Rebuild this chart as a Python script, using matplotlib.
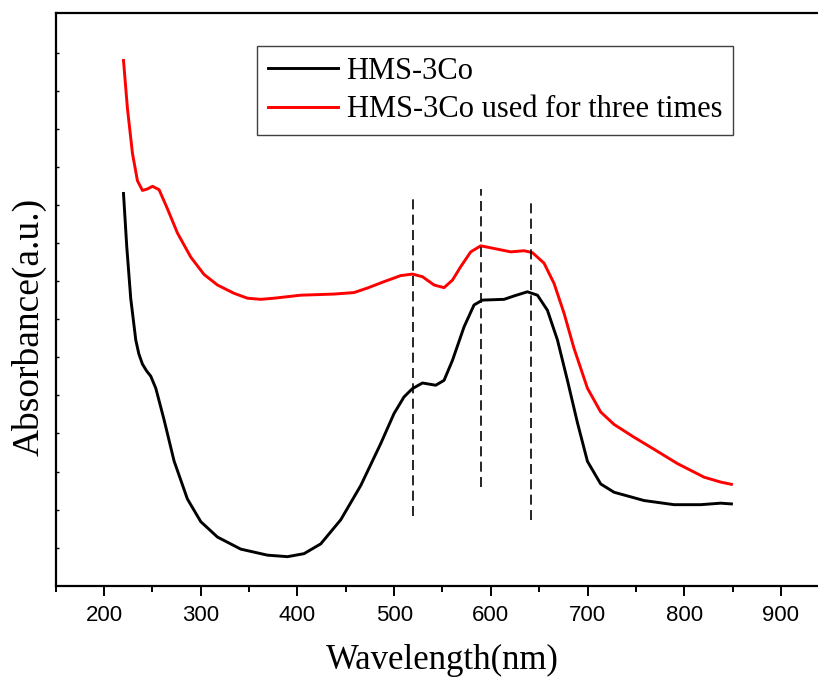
"""UV-Vis absorbance spectra of HMS-3Co, fresh and after three uses."""
import matplotlib
matplotlib.use("Agg")
import matplotlib.pyplot as plt

# wavelength (nm) / absorbance (a.u.)
fresh_nm = [220.1, 223.5, 227.6, 232.8, 236.0, 239.7, 244.0, 248.3, 253.5, 262.0,
            272.4, 286.2, 300.0, 317.3, 341.4, 369.0, 389.7, 406.8, 424.1, 444.8,
            465.5, 486.1, 499.9, 510.2, 518.9, 529.3, 543.0, 551.6, 560.3, 572.3,
            582.6, 591.3, 613.7, 624.0, 637.8, 648.2, 658.5, 668.9, 679.2, 689.5,
            699.9, 713.6, 727.4, 758.4, 789.4, 817.0, 837.7, 848.8]
fresh_abs = [10.41, 8.99, 7.62, 6.52, 6.15, 5.88, 5.70, 5.56, 5.24, 4.41,
             3.31, 2.30, 1.70, 1.29, 0.97, 0.81, 0.77, 0.85, 1.11, 1.75,
             2.66, 3.77, 4.57, 5.01, 5.23, 5.38, 5.32, 5.45, 5.98, 6.87,
             7.45, 7.58, 7.60, 7.69, 7.80, 7.71, 7.31, 6.52, 5.45, 4.33,
             3.30, 2.70, 2.48, 2.26, 2.15, 2.15, 2.19, 2.17]

used_nm = [220.1, 224.2, 229.4, 234.5, 239.7, 244.9, 250.1, 256.9, 265.6, 275.9,
           289.7, 303.4, 317.3, 334.4, 348.3, 362.0, 375.8, 403.4, 437.8, 458.5,
           472.4, 489.6, 506.8, 518.9, 529.3, 541.3, 551.6, 560.3, 568.9, 579.2,
           589.6, 603.3, 620.6, 634.3, 643.0, 655.0, 665.4, 675.7, 686.0, 699.9,
           713.6, 727.4, 748.1, 768.8, 793.0, 820.5, 837.7, 848.8]
used_abs = [13.94, 12.66, 11.47, 10.75, 10.49, 10.53, 10.60, 10.51, 10.00, 9.36,
            8.72, 8.26, 7.98, 7.76, 7.63, 7.60, 7.63, 7.71, 7.74, 7.78,
            7.90, 8.07, 8.23, 8.27, 8.20, 7.98, 7.91, 8.11, 8.47, 8.86,
            9.02, 8.95, 8.86, 8.89, 8.84, 8.56, 8.02, 7.23, 6.30, 5.24,
            4.61, 4.28, 3.94, 3.62, 3.24, 2.88, 2.75, 2.69]

# dashed guide lines at the band positions
band_nm = [520, 590, 642]
band_low = [1.86, 2.61, 1.75]
band_high = [10.28, 10.52, 10.17]

labels = ["HMS-3Co", "HMS-3Co used for three times"]
xticks = [200, 300, 400, 500, 600, 700, 800, 900]

serif = ["Liberation Serif", "DejaVu Serif"]

fig = plt.figure(figsize=(8.18, 6.8), dpi=100)
ax = fig.add_axes([0.0681, 0.1387, 0.9457, 0.8422])

ax.plot(fresh_nm, fresh_abs, color="black", lw=2.1, label=labels[0])
ax.plot(used_nm, used_abs, color="red", lw=2.1, label=labels[1])
for x, lo, hi in zip(band_nm, band_low, band_high):
    ax.plot([x, x], [lo, hi], color="black", lw=1.2, dashes=(6, 3.2))

ax.set_xlim(150, 950)
ax.set_ylim(0, 15.2)
ax.set_xticks(xticks)
ax.set_xticks([x + 50 for x in [100] + xticks], minor=True)
ax.set_yticks([1.01 * k for k in range(1, 15)])
ax.tick_params(axis="x", which="major", direction="out", length=7, width=1.4,
               labelsize=16, pad=7)
ax.tick_params(axis="x", which="minor", direction="out", length=4, width=1.4)
ax.tick_params(axis="y", which="major", direction="in", length=2, width=1,
               labelleft=False)
for lab in ax.get_xticklabels():
    lab.set_fontfamily(["Liberation Sans", "DejaVu Sans"])
for sp in ax.spines.values():
    sp.set_linewidth(1.6)

ax.set_xlabel("Wavelength(nm)", fontsize=25, family=serif, va="center")
ax.xaxis.set_label_coords(0.5, -0.13)
ax.set_ylabel("Absorbance(a.u.)", fontsize=27, family=serif, va="center")
ax.yaxis.set_label_coords(-0.034, 0.451)

leg = ax.legend(loc="upper left", bbox_to_anchor=(257 / 818, 1 - 46 / 680),
                bbox_transform=fig.transFigure, prop={"family": serif, "size": 22},
                handlelength=2.3, handletextpad=0.28, borderpad=0.35,
                borderaxespad=0, labelspacing=0.32, fancybox=False, framealpha=1)
leg.get_frame().set_edgecolor("#404040")
leg.get_frame().set_linewidth(1.0)

fig.savefig("out.png", dpi=100)
plt.close(fig)
